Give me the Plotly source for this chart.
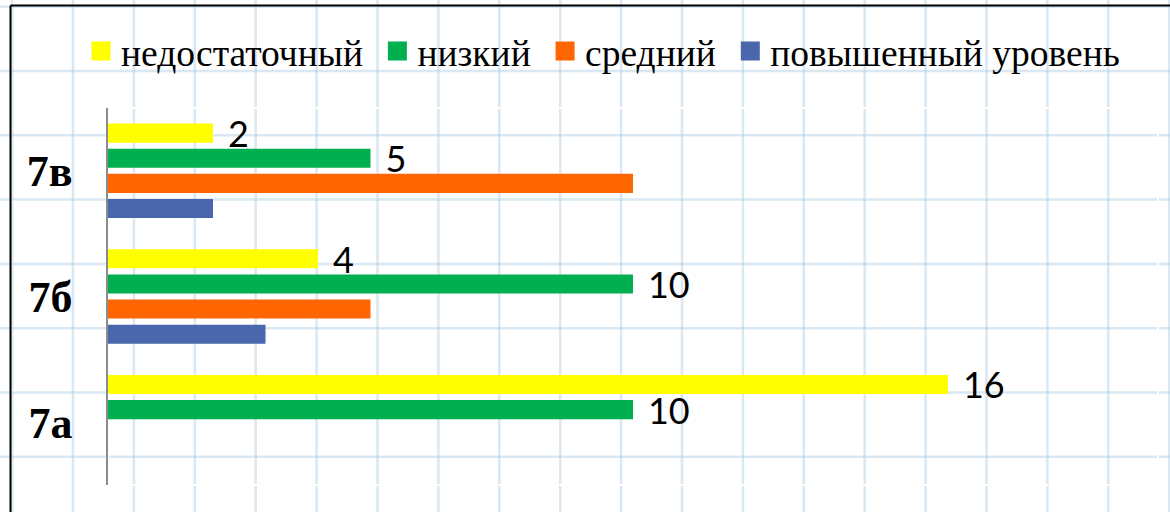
import plotly.graph_objects as go

# ---- data ----
categories = ["7в", "7б", "7а"]          # top to bottom
series_names = ["недостаточный\u00a0", "низкий\u00a0", "средний\u00a0", "повышенный уровень"]
nedostatochny = [2, 4, 16]
nizky = [5, 10, 10]
sredny = [10, 5, 0]
povyshenny = [2, 3, 0]
series_values = [nedostatochny, nizky, sredny, povyshenny]
series_colors = ["#FFFF00", "#00B050", "#FF6600", "#4A66AC"]
show_labels = [True, True, False, False]

W, H = 1170, 512
ML, MR, MT, MB = 108, 12, 108, 27
PW, PH = W - ML - MR, H - MT - MB


def px_x(x):  # pixel -> paper
    return (x - ML) / PW


def px_y(y):
    return (H - MB - y) / PH


fig = go.Figure()
for name, vals, col, lab in zip(series_names, series_values, series_colors, show_labels):
    fig.add_trace(go.Bar(
        name=name, y=categories, x=vals, orientation="h",
        marker=dict(color=col, line=dict(width=0)),
        text=["\u2004" + str(v) if (lab and v) else "" for v in vals],
        textposition="outside", cliponaxis=False, constraintext="none",
        textfont=dict(family="Lato, Open Sans, sans-serif", size=36, color="#000000"),
        showlegend=False, legendgroup=name,
    ))
# legend entries (larger square swatches)
for name, col in zip(series_names, series_colors):
    fig.add_trace(go.Scatter(
        name=name, x=[None], y=[None], mode="markers", legendgroup=name,
        marker=dict(symbol="square", size=16, color=col, line=dict(color=col, width=3)),
        hoverinfo="skip",
    ))

# graph-paper background (decoration)
shapes = []
grid_col = "rgba(170,205,228,0.45)"
x = 12.1
while x < W:
    shapes.append(dict(type="line", xref="paper", yref="paper", layer="below",
                       x0=px_x(x), x1=px_x(x), y0=px_y(H + 2), y1=px_y(-2),
                       line=dict(color=grid_col, width=2.5)))
    x += 60.9
y = 6.7
while y < H:
    shapes.append(dict(type="line", xref="paper", yref="paper", layer="below",
                       x0=px_x(-2), x1=px_x(W + 2), y0=px_y(y), y1=px_y(y),
                       line=dict(color=grid_col, width=2.5)))
    y += 64.3
# white plot-area frame
shapes.append(dict(type="rect", xref="paper", yref="paper", layer="below",
                   x0=0, x1=1, y0=0, y1=1, line=dict(color="white", width=2)))
# black outer border (left & top)
shapes.append(dict(type="line", xref="paper", yref="paper", layer="above",
                   x0=px_x(10.5), x1=px_x(10.5), y0=px_y(H + 5), y1=px_y(5.5),
                   line=dict(color="#000000", width=2)))
shapes.append(dict(type="line", xref="paper", yref="paper", layer="above",
                   x0=px_x(10.5), x1=px_x(W + 5), y0=px_y(5.5), y1=px_y(5.5),
                   line=dict(color="#000000", width=2)))

fig.update_layout(
    width=W, height=H,
    margin=dict(l=ML, r=MR, t=MT, b=MB, pad=0),
    paper_bgcolor="white", plot_bgcolor="rgba(0,0,0,0)",
    barmode="group", bargap=0.2, bargroupgap=0.24,
    showlegend=True,
    legend=dict(orientation="h", x=px_x(81), xanchor="left", y=px_y(51), yanchor="middle",
                font=dict(family="Liberation Serif, Times New Roman, serif", size=37.5, color="#000000"),
                bgcolor="rgba(0,0,0,0)", traceorder="normal", itemclick=False,
                itemdoubleclick=False),
    xaxis=dict(range=[0, 20], showgrid=False, zeroline=False, showticklabels=False,
               showline=False, ticks="", fixedrange=True),
    yaxis=dict(autorange="reversed", showgrid=False, zeroline=False,
               showline=True, linecolor="#8c8c8c", linewidth=1.5,
               ticks="", ticklabelstandoff=25, fixedrange=True,
               tickfont=dict(family="Liberation Serif, Times New Roman, serif", size=44,
                             color="#000000", weight="bold")),
    shapes=shapes,
)

fig.write_html("out.html", config={"displayModeBar": False},
               post_script="document.body.style.margin='0';")
